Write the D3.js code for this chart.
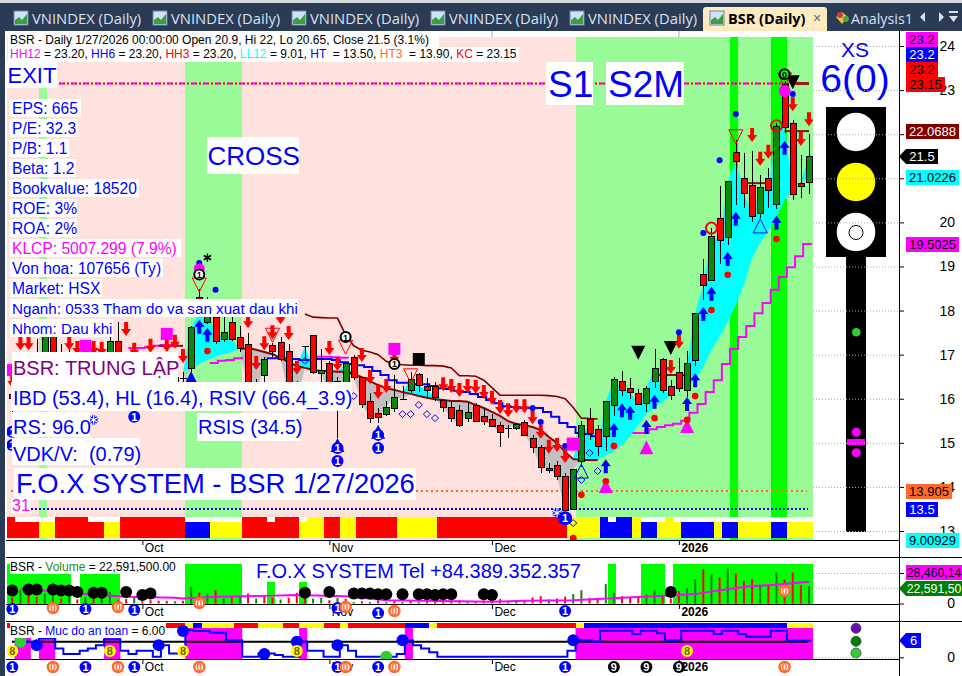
<!DOCTYPE html>
<html><head><meta charset="utf-8">
<style>html,body{margin:0;padding:0;background:#fff;overflow:hidden}svg{display:block}text{font-family:"Liberation Sans",Arial,sans-serif;white-space:pre}</style>
<script src="https://cdn.jsdelivr.net/npm/d3@7"></script></head><body><svg id="c" width="962" height="676"></svg>
<script>
// ---------- candle data, bar 0 .. 98 ----------
const opens=[16.1,16.9,16.6,16.8,16.4,17.42,16.9,16.8,17.0,16.5,16.9,16.7,16.5,17.3,16.9,16.6,16.5,16.7,16.5,16.6,16.5,16.47,16.7,18.3,17.75,17.86,17.36,17.73,17.39,17.23,16.3,16.52,17.21,17.28,17.08,16.3,17.2,17.44,16.59,16.8,16.4,16.08,16.94,16.49,15.94,15.68,15.65,15.81,15.99,16.19,16.55,16.3,16.3,15.98,15.81,15.74,15.55,15.85,15.6,15.55,15.4,15.34,15.34,15.48,15.11,14.9,14.44,14.49,14.25,13.49,14.59,15.55,15.31,15.14,15.84,16.4,16.24,16.14,15.9,16.39,16.89,16.3,16.6,16.18,16.88,18.84,18.68,20.09,19.65,21.59,21.0,20.84,20.22,21.0,20.42,23.14,22.25,20.89,20.9];
const highs=[16.2,17.0,16.95,17.35,17.45,17.45,17.25,17.3,17.1,17.1,17.05,17.1,17.55,17.75,17.0,16.95,16.9,16.95,16.8,16.85,16.7,16.6,17.65,18.5,18.3,18.0,18.0,17.95,17.65,17.5,16.45,16.95,17.26,17.4,17.25,16.4,17.2,17.45,17.13,16.85,16.5,16.8,17.0,16.5,16.13,15.78,15.94,16.54,16.3,16.6,16.58,16.47,16.38,16.0,15.94,15.85,15.94,15.9,15.79,15.65,15.48,15.4,15.46,15.52,15.18,14.95,14.54,14.59,14.32,14.4,15.5,15.78,15.4,15.94,16.5,16.63,16.46,16.22,16.29,17.13,16.92,16.42,16.92,17.08,17.95,19.16,19.87,20.82,20.93,21.87,21.57,21.62,21.07,21.23,22.25,23.2,22.32,21.52,22];
const lows=[15.7,16.3,16.3,16.6,16.3,16.45,16.5,16.5,16.45,16.4,16.6,16.4,16.3,16.5,16.3,16.3,16.3,16.4,16.3,16.35,16.1,16.2,16.6,17.9,17.7,17.25,17.28,17.3,17.05,16.1,15.9,16.3,16.95,16.85,15.95,15.9,16.88,16.55,16.39,15.9,15.12,15.9,16.43,15.8,15.46,15.44,15.6,15.71,15.99,16.1,16.16,16.0,15.94,15.7,15.48,15.37,15.48,15.47,15.4,15.35,14.91,15.11,15.3,15.17,14.78,14.32,14.32,14.15,13.49,13.49,14.45,15.06,14.7,14.82,15.61,16.06,15.99,15.86,15.71,16.24,16.13,15.97,16.16,16.03,16.74,18.24,18.68,19.06,19.49,20.39,20.33,20.0,20.1,20.33,20.3,22.03,20.5,20.55,20.65];
const closes=[16.0,16.4,16.8,17.05,17.42,16.55,16.6,16.6,16.5,16.9,16.7,16.9,17.3,16.6,16.4,16.4,16.7,16.5,16.6,16.4,16.3,16.47,17.62,17.95,18.2,17.32,17.51,17.35,17.13,16.2,16.0,16.89,17.07,16.89,16.08,16.0,17.19,16.59,16.65,16.0,15.75,16.8,16.49,15.88,15.56,15.6,15.81,16.05,15.99,16.44,16.3,16.2,16.05,15.81,15.56,15.39,15.69,15.48,15.49,15.39,15.23,15.34,15.43,15.19,14.9,14.44,14.4,14.25,13.49,14.4,15.4,15.23,14.93,15.94,16.44,16.19,16.14,15.88,16.24,16.69,16.19,16.1,16.24,16.8,17.95,18.59,19.68,19.58,20.93,21.38,20.67,20.13,20.8,20.73,22.18,22.17,20.64,20.83,21.5];
// slow line that bounds the cloud, from bar 21
const slowFirst=21;
const slow=[16.61,16.67,16.79,16.88,16.95,17.01,17.06,17.13,17.15,17.11,17.06,17.01,16.92,16.83,16.74,16.7,16.65,16.63,16.63,16.61,16.61,16.56,16.49,16.4,16.31,16.24,16.2,16.15,16.11,16.06,16.02,15.99,15.97,15.95,15.95,15.93,15.86,15.79,15.7,15.61,15.49,15.43,15.4,15.36,15.29,15.13,15.0,14.79,14.63,14.61,14.61,14.61,14.72,14.81,14.95,15.15,15.4,15.65,15.81,15.93,16.08,16.22,16.31,16.42,16.72,17.1,17.4,17.74,18.13,18.58,19.19,19.53,19.8,20.12,20.51,20.73,20.92,21.02];
// blue stepped line, bars 31-72
const blueFirst=31;
const blueLine=[16.92,16.92,16.92,16.9,16.88,16.88,16.9,16.9,16.88,16.83,16.79,16.76,16.72,16.63,16.54,16.42,16.36,16.36,16.33,16.33,16.29,16.24,16.22,16.18,16.15,16.11,16.04,15.97,15.9,15.83,15.81,15.79,15.79,15.79,15.7,15.59,15.45,15.36,15.22,15.2,15.15,15.13];
// magenta stepped line pieces
const stairFirst=76;
const stair=[15.22,15.22,15.31,15.36,15.4,15.43,15.5,15.68,15.88,16.15,16.42,16.79,17.13,17.4,17.65,17.94,18.17,18.47,18.76,18.98,19.23,19.51,19.5025];
const stairB=[17.15,17.15,17.17,17.2,17.22,17.22,17.24], stairBFirst=14;
const stairC=[16.81,16.86,16.88,16.92,16.95], stairCFirst=24;
const stairD=[16.95,16.95,16.94,16.93,16.92], stairDFirst=37;
// dark red upper line, bars 36-72
const upperFirst=36;
const upperLine=[17.92,17.85,17.84,17.83,17.83,17.45,17.2,17.1,17.06,17.0,16.85,16.78,16.77,16.76,16.76,16.75,16.75,16.74,16.7,16.52,16.52,16.51,16.42,16.25,16.08,16.08,16.08,16.08,16.08,16.08,16.07,16.05,16.0,15.8,15.56,15.55,15.54];
// short level segments [from bar, to bar, price, stroke]
const levelFrom=[18,79,90,95,96.4], levelTo=[21,83,93,98,98], levelPrice=[17.2,16.54,20.89,22.07,23.15], levelWidth=[2,2,2,2,3];
// markers on the price panel: bar + price
const redArrowBar=[0,1,2,7,8,9,10,11,14,15,17,19,20,21,29,30,31,32,33,34,35,39,40,43,44,45,46,47,53,54,55,56,57,58,59,60,61,62,63,64,65,66,67,68,81,82,91,92,93,96,97,98];
const redArrowPrice=[16.4,17.26,17.26,17.26,17.15,17.13,17.15,17.13,17.58,17.11,17.2,17.22,17.29,16.97,17.76,16.81,17.26,17.51,17.85,17.49,16.7,17.15,16.79,16.99,16.49,16.15,16.29,16.95,16.33,16.29,16.2,16.29,16.27,16.15,16.02,15.81,15.74,15.83,15.83,15.58,15.25,14.91,14.95,14.7,16.72,17.29,21.98,21.44,21.6,22.68,21.89,22.34];
const blueArrowBar=[23,24,73,74,75,76,78,79,83,84,85,86,88,89,94,95];
const blueArrowPrice=[17.63,17.45,14.47,15.29,15.74,15.68,15.36,15.93,15.88,16.42,17.92,18.38,19.17,20.08,19.99,21.69];
const hollowDownBar=[23,32,41,49,89,95], hollowDownPrice=[18.58,17.44,17.17,16.52,21.94,23.23];
const hollowUpBar=[92,70], hollowUpPrice=[19.92,14.36];
const blueUpBar=[22,40,45], blueUpPrice=[16.47,14.95,15.25];
const magentaUpBar=[73,78,83], magentaUpPrice=[14.02,14.9,15.38];
const blackDownBar=[77,81,96], blackDownPrice=[17.04,17.15,23.18];
const redRingBar=[86,94], redRingPrice=[19.87,22.19];
const blueDotBar=[23,25,64,65,68,82,85,87,89,96], blueDotPrice=[19.08,18.47,15.79,15.47,14.93,17.51,19.76,21.41,22.46,22.91];
const redDotBar=[24,69,70,73,74,79,83,84,86,88,94], redDotPrice=[17.08,12.84,13.82,14.13,14.93,15.56,15.52,16.06,18.01,18.81,19.62];
const hollowDiaBar=[36,42,48,49,50,51,52,70,71,72], hollowDiaPrice=[16.86,16.06,15.65,15.65,15.86,15.65,15.56,14.16,14.77,14.36];
const magSquareBar=[0,9,19,47,69], magSquarePrice=[16.65,17.2,17.47,17.13,14.97], magSquareSize=[12,12,12,12,13];
const oneBar=[0,0,15,40,40,45,45], onePrice=[15.25,14.95,15.59,14.88,14.59,15.18,14.88];
const ringBar=[23,41,47,95], ringPrice=[18.82,17.4,16.79,23.36];
// bar index based ribbons
const R="#ff0000",Y="#ffff00",B="#0000ff";
const stripFrom=[-1,3,5,11,13,21,24,28,35,38,40,42,47,52,68,72,76,77,79,82,86,87,89,93,95];
const stripTo=[3,5,11,13,21,24,28,35,38,40,42,47,52,68,72,76,77,79,82,86,87,89,93,95,99];
const stripColor=[R,Y,R,Y,R,B,Y,R,Y,R,Y,R,Y,R,Y,B,Y,B,Y,B,Y,B,Y,B,Y];
const stripWhiteFrom=[0,9,21,31,35,73,77,81], stripWhiteTo=[5,13,28,32,36,74,80,99];
const safeRibFrom=[-1,21,22,23,27,30,33,35,38,40,41,48,51,52,69,70,95];
const safeRibTo=[21,22,23,27,30,33,35,38,40,41,48,51,52,69,70,95,99];
const safeRibColor=[R,Y,B,Y,R,Y,R,Y,R,Y,R,B,Y,R,Y,B,Y];
const paleFrom=[3,21,69], paleTo=[4,28,99];
const limeFrom=[88,93], limeTo=[89,95];
// volume, millions
const volumes=[8,17.5,11,8.8,13,17.5,6.5,11,5.3,8.8,8.8,13,15,5,6,9,3,4.4,3.5,3.5,3,3.5,22,14.5,13,17.5,6.5,8,9,13,6.5,9.6,7.5,5.3,7.5,14,8.8,6.5,7.5,4.4,7.5,6,2,3,2,4,2,3,2,4,2,3,4,2,3,4,2,3,4,3,5.7,3,3,4.4,7.9,9.6,5.3,6.5,8.8,12.3,17.5,7.5,7.5,25.4,14,9.6,7.5,8.8,11.8,17.5,8.8,6.5,16.2,19.7,31.6,45,38.6,34,46,39.5,29.4,31.6,22.8,24,40.8,31.6,40.8,24,22.59];
const volGreen=[1,4,5,7,9,11,12,15,20,22,24,26,28,30,33,37,38,40,42,44,46,48,50,56,61,62,66,69,70,73,74,78,79,83,84,86,88,92,94,98];
const volLimeFrom=[-1,8,21,31,35,73,77,81], volLimeTo=[7,13,28,32,36,74,80,99];
const volMaBar=[1,8,14,20,21,25,31,35,41,46,55,59,63,69,75,79,84,87,91,94,98];
const volMa=[19.7,13,8.8,7.5,6.6,8.8,10,11,9.6,4.4,3,2.2,3.5,4.4,7.5,9.6,12.3,17.5,22.8,24.6,28.46];
const volDotBar=[0,2,3,5,6,7,8,10,11,14,16,17,36,39,42,43,44,45,46,48,50,51,52,53,54,58,59,81];
const volDotValue=[17,18.5,18.5,18.5,17,17,15,14,14,15,11,13,14,15,13,13,13,12,12,12,12,12,11,12,12,12,11,15];
// step line: safety level per bar
const safety=[5.6,5.6,5.6,6.85,6.85,3.2,1.2,1.2,2.4,3.2,4.4,6.5,6.5,2.4,1.2,2.4,2.4,0.2,4.4,1.4,1.4,9.9,9.5,9.5,8.9,8.9,6.2,6.2,0.2,0.2,1.4,1.4,0.8,0.2,0.2,5.6,2.4,2.4,0.2,0.2,4.4,2.4,0.2,0.2,0.2,0.2,0.2,1.2,6.2,4.4,3.2,1.8,0.2,0.2,0.2,0.2,0.2,0.2,0.2,0.2,0.2,0.2,0.2,0.2,0.2,0.2,0.2,0.2,2.4,6.2,6.2,5.6,9.6,9.6,9.6,9.6,8.4,9.6,9.6,8.7,6.2,6.2,9.6,9.6,9.6,9.6,8.4,9.6,9.6,8.4,7.4,7.4,7.4,9.6,9.6,6,6,6,6];
const safeMagFrom=[0,3,11,21,35,48,69], safeMagTo=[2,5,13,28,36,49,99], safeMagTop=[7,7,7,10.6,10.6,10.6,10.6];
const safeBlueBar=[3,18,21,31,35,40,48,69], safeBlueValue=[4.4,4.4,9.5,1.2,5.6,4.4,6.2,6.2];
const safeGreenBar=[1,46], safeGreenValue=[5.6,0.2];
const safeEightBar=[0,12,21,35,83];
const oneVolBar=[0,9,15,40,45,68], zeroVolBar=[5,13,23,41,47,95];
const nineBar=[74,78,82];
// tick labels
const monthBars=[16,39,59,82], monthLabels=["Oct","Nov","Dec","2026"];
const priceTicks=[13,14,15,16,17,18,19,20,21,22,23,24];
const volTicks=[0,20,40], safeTicks=[0];
const tabLabels=["VNINDEX (Daily)","VNINDEX (Daily)","VNINDEX (Daily)","VNINDEX (Daily)","VNINDEX (Daily)"];
const infoLines=["EPS: 665","P/E: 32.3","P/B: 1.1","Beta: 1.2","Bookvalue: 18520","ROE: 3%","ROA: 2%","KLCP: 5007.299 (7.9%)","Von hoa: 107656 (Ty)","Market: HSX","Nganh: 0533 Tham do va san xuat dau khi","Nhom: Dau khi"];
const infoWidth=[71,68,59,66,129,67,67,171,153,92,288,103];
const infoSize=[15.6,15.6,15.6,15.6,15.6,15.6,15.6,15.6,15.6,15.6,15.2,15.2];
const tagText=["23.2","23.2","23.2","23.15","22.0688","21.0226","19.5025","13.905","13.5","9.00929","28,460,14","22,591,50","21.5","6"];
const tagFill=["#ff00ff","#0000ff","#ff0000","#ff0000","#800000","#00ffff","#ff00ff","#ff6a2a","#0000ff","#00ffff","#ff00ff","#008000","#000","#0000ff"];
const tagInk=["#000","#fff","#000","#000","#fff","#000","#000","#000","#fff","#000","#000","#fff","#fff","#fff"];
const tagLeft=[906,906,906,906,906,906,906,906,906,906,906,899,899,899];
const tagRight=[938,938,938,945,959,959,959,952,938,959,962,962,938,921];
const tagTop=[32,47,62,77,124,170,237,484,502,533,565,581,149,633];

// ---------- scales ----------
const svg=d3.select("#c");
const x=d3.scaleLinear().domain([0,98]).range([12.3,809]);
const edge=e=>x(e+.28);
const y=d3.scaleLinear().domain([13,24]).range([531,46]);
const yVol=d3.scaleLinear().domain([0,40]).range([603.5,573]);
const ySafe=d3.scaleLinear().domain([0,6]).range([657.3,640.7]);
const BLUE="#0000ff",PINK="#ffe1de",PALE="#98fb98",LIME="#00ff00",CYAN="#00ffff",GREY="#c0c0c0",MAG="#ff00ff",CG="#0a8a0a";

const defs=svg.append("defs");
defs.append("clipPath").attr("id","pm").append("rect").attr("x",7).attr("y",37).attr("width",806).attr("height",503);
defs.append("clipPath").attr("id","pv").append("rect").attr("x",7).attr("y",557).attr("width",806).attr("height",47);
defs.append("clipPath").attr("id","ps").append("rect").attr("x",7).attr("y",621).attr("width",806).attr("height",38);

svg.append("rect").attr("width",962).attr("height",676).attr("fill","#fff");

// ---------- main panel ----------
const m=svg.append("g").attr("clip-path","url(#pm)");
m.append("rect").attr("x",7).attr("y",37).attr("width",806).attr("height",503).attr("fill",PINK);
const bands=(g,from,to,top,bot,col)=>g.selectAll(null).data(from.map((f,k)=>[f,to[k],Array.isArray(col)?col[k]:col])).join("rect")
  .attr("x",d=>edge(d[0])).attr("width",d=>edge(d[1])-edge(d[0])).attr("y",top).attr("height",bot-top).attr("fill",d=>d[2]).attr("shape-rendering","crispEdges");
bands(m,paleFrom,paleTo,37,540,PALE);
bands(m,limeFrom,limeTo,37,540,LIME);

// cloud between close and the slow line
const cloudBars=d3.range(slowFirst,99);
const slowAt=i=>slow[i-slowFirst];
m.append("path").attr("fill",CYAN).attr("d",d3.area().x(i=>x(i)).y0(i=>y(slowAt(i))).y1(i=>y(Math.max(closes[i],slowAt(i))))(cloudBars));
m.append("path").attr("fill",GREY).attr("d",d3.area().x(i=>x(i)).y0(i=>y(slowAt(i))).y1(i=>y(Math.min(closes[i],slowAt(i))))(cloudBars));

// dotted levels
const hline=(g,a,b,p,col,dash,w)=>g.append("line").attr("x1",a).attr("x2",b).attr("y1",y(p)).attr("y2",y(p)).attr("stroke",col).attr("stroke-dasharray",dash).attr("stroke-width",w);
hline(m,59,808,23.15,"#ff0000","2,2",2);
hline(m,59,808,23.15,MAG,"4,8",2);
hline(m,11,807,13.905,"#ff6a2a","2,3",2);
hline(m,31,808,13.5,BLUE,"2,2",2);

// lines
const lineOf=(first,arr,curve)=>d3.line().x((d,k)=>x(first+k)+(curve?2.3:0)).y(d=>y(d)).curve(curve||d3.curveLinear)(arr);
const stroke=(g,d,col,w)=>g.append("path").attr("d",d).attr("fill","none").attr("stroke",col).attr("stroke-width",w);
stroke(m,lineOf(stairFirst,stair,d3.curveStepAfter),MAG,2);
stroke(m,lineOf(stairBFirst,stairB,d3.curveStepAfter),MAG,2);
stroke(m,lineOf(stairCFirst,stairC,d3.curveStepAfter),MAG,2);
stroke(m,lineOf(stairDFirst,stairD,d3.curveStepAfter),MAG,2);
stroke(m,lineOf(upperFirst,upperLine),"#800000",1.6);
stroke(m,lineOf(blueFirst,blueLine,d3.curveStepAfter),BLUE,2);
stroke(m,lineOf(28,slow.slice(7,52)),"#8b0000",2);
m.selectAll(null).data(levelFrom.map((f,k)=>k)).join("line").attr("x1",k=>x(levelFrom[k])).attr("x2",k=>x(levelTo[k])).attr("y1",k=>y(levelPrice[k])).attr("y2",k=>y(levelPrice[k])).attr("stroke",k=>k==4?"#a01818":"#8b1010").attr("stroke-width",k=>levelWidth[k]);

// candles
const bars=d3.range(closes.length);
const cg=m.append("g").attr("shape-rendering","crispEdges");
cg.selectAll(".w").data(bars).join("line").attr("class","w").attr("x1",i=>Math.round(x(i))+.5).attr("x2",i=>Math.round(x(i))+.5).attr("y1",i=>y(highs[i])).attr("y2",i=>y(lows[i])).attr("stroke","#000");
cg.selectAll(".b").data(bars).join("rect").attr("class","b").attr("x",i=>Math.round(x(i))-2.5).attr("width",6)
  .attr("y",i=>Math.round(y(Math.max(opens[i],closes[i])))+.5).attr("height",i=>Math.max(Math.abs(y(opens[i])-y(closes[i])),.01))
  .attr("fill",i=>closes[i]>opens[i]?CG:"#ff0000").attr("stroke","#000");

// markers
const pts=(a,b)=>a.map((v,k)=>[x(v),y(b[k])]);
const arrowDown="M-2,-7L2,-7L2,0L5,0L0,7L-5,0L-2,0Z", arrowUp="M-2,7L2,7L2,0L5,0L0,-7L-5,0L-2,0Z";
const triDown="M-7,-7L7,-7L0,7Z", triUp="M-7,7L7,7L0,-7Z";
const place=(g,list,path,fill,st)=>g.selectAll(null).data(list).join("path").attr("transform",d=>`translate(${d[0]},${d[1]})`).attr("d",path).attr("fill",fill).attr("stroke",st||"none");
const mk=m.append("g");
place(mk,pts(magentaUpBar,magentaUpPrice),triUp,MAG);
place(mk,pts(blackDownBar,blackDownPrice),triDown,"#000");
place(mk,pts(hollowDownBar,hollowDownPrice),triDown,"none","#ff0000");
place(mk,pts(hollowUpBar,hollowUpPrice),triUp,"none",BLUE);
place(mk,pts(blueUpBar,blueUpPrice),triUp,BLUE);
place(mk,pts(redArrowBar,redArrowPrice),arrowDown,"#ff0000");
place(mk,pts(blueArrowBar,blueArrowPrice),arrowUp,BLUE);
const dots=(list,r,fill,st,w)=>mk.selectAll(null).data(list).join("circle").attr("cx",d=>d[0]).attr("cy",d=>d[1]).attr("r",r).attr("fill",fill).attr("stroke",st||"none").attr("stroke-width",w||1);
dots(pts(redRingBar,redRingPrice),5.5,"none","#ff0000",2);
dots(pts(blueDotBar,blueDotPrice),3,BLUE);
dots(pts(redDotBar,redDotPrice),3.3,"#ff0000");
place(mk,pts(hollowDiaBar,hollowDiaPrice),"M0,-3.5L3.5,0L0,3.5L-3.5,0Z","none",BLUE);
mk.selectAll(null).data(magSquareBar.map((b,k)=>k)).join("rect").attr("x",k=>x(magSquareBar[k])-magSquareSize[k]/2).attr("y",k=>y(magSquarePrice[k])-magSquareSize[k]/2).attr("width",k=>magSquareSize[k]).attr("height",k=>magSquareSize[k]).attr("fill",MAG);
mk.append("rect").attr("x",x(50)-6).attr("y",y(16.9)-6).attr("width",12).attr("height",12).attr("fill","#000");
mk.append("circle").attr("cx",x(95)).attr("cy",y(22.98)).attr("r",6).attr("fill",MAG);
mk.append("circle").attr("cx",x(23)).attr("cy",y(18.95)).attr("r",5.5).attr("fill",MAG);
const badge=(g,cx,cy,txt,fill,ink,r)=>{g.append("circle").attr("cx",cx).attr("cy",cy).attr("r",r||6).attr("fill",fill);
  g.append("text").attr("x",cx).attr("y",cy+4).attr("text-anchor","middle").attr("font-size",11).attr("font-weight","bold").attr("fill",ink).text(txt);};
oneBar.forEach((b,k)=>badge(mk,x(b),y(onePrice[k]),"1",BLUE,"#fff"));
ringBar.forEach((b,k)=>{mk.append("circle").attr("cx",x(b)).attr("cy",y(ringPrice[k])).attr("r",5).attr("fill",k==3?LIME:"#fff").attr("stroke","#000").attr("stroke-width",2);
  mk.append("text").attr("x",x(b)).attr("y",y(ringPrice[k])+3.5).attr("text-anchor","middle").attr("font-size",9).attr("font-weight","bold").text(k==3?"0":"1");});
const star=d3.symbol().type(d3.symbolAsterisk);
mk.append("path").attr("transform",`translate(${x(24)},${y(19.2)})`).attr("d",star.size(50)()).attr("stroke","#000").attr("stroke-width",1.5);
[[10,15.52],[67,13.41]].forEach(p=>{const t=`translate(${x(p[0])},${y(p[1])})`;
  mk.append("path").attr("transform",t).attr("d",star.size(60)()).attr("stroke",BLUE).attr("stroke-width",3);
  mk.append("path").attr("transform",t).attr("d",star.size(60)()).attr("stroke","#fff").attr("stroke-width",1.2);});

// bottom ribbon
const rib=m.append("g");
bands(rib,stripFrom,stripTo,517,538,stripColor);
bands(rib,stripWhiteFrom,stripWhiteTo,517,522,"#fff");
badge(m,x(68),y(13.29),"1",BLUE,"#fff",7);
m.append("circle").attr("cx",x(69)).attr("cy",y(12.84)).attr("r",3.3).attr("fill","#ff0000");
m.append("path").attr("transform",`translate(${x(69)},${y(13.18)})`).attr("d","M0,-3.5L3.5,0L0,3.5L-3.5,0Z").attr("fill","none").attr("stroke",BLUE);

// text boxes
const box=(px,py,w,h,txt,size,col,base,tx,anchor)=>{svg.append("rect").attr("x",px).attr("y",py).attr("width",w).attr("height",h).attr("fill","#fff");
  svg.append("text").attr("x",tx!=null?tx:px+2).attr("y",base).attr("font-size",size).attr("fill",col).attr("text-anchor",anchor||"start").text(txt);};
infoLines.forEach((t,k)=>box(10,99+20*k,infoWidth[k],18,t,infoSize[k],k==7?MAG:BLUE,114+20*k));
box(7,62,50,26,"EXIT",22,BLUE,83,7.5);
box(207,137,92,37,"CROSS",26,BLUE,165,207.5);
box(546,62,47,43,"S1",37,BLUE,97,548);
box(606,62,78,43,"S2M",37,BLUE,97,608);
box(12,352,166,30,"BSR: TRUNG LẬP",20,"#800080",375,13);
box(11,382,341,29,"IBD (53.4), HL (16.4), RSIV (66.4_3.9)",20,BLUE,405,13);
box(12,412,78,25,"RS: 96.0",20,BLUE,434,13);
box(12,438,128,27,"VDK/V:  (0.79)",20,BLUE,461,13);
box(197,413,104,28,"RSIS (34.5)",20,BLUE,434,198);
box(14,468,402,32,"F.O.X SYSTEM - BSR 1/27/2026",27.4,BLUE,493,16);
box(11,498,20,15,"31",16,MAG,511,12);

// header
const hdr=svg.append("g");
hdr.append("rect").attr("x",8).attr("y",33).attr("width",431).attr("height",15).attr("fill","#fff");
hdr.append("rect").attr("x",8).attr("y",47).attr("width",511).attr("height",15).attr("fill","#fff");
hdr.append("text").attr("x",10).attr("y",44).attr("font-size",12).attr("fill","#000").text("BSR - Daily 1/27/2026 00:00:00 Open 20.9, Hi 22, Lo 20.65, Close 21.5 (3.1%)");
const hl=[["HH12",MAG]," = 23.20, ",["HH6",BLUE]," = 23.20, ",["HH3","#ff0000"]," = 23.20, ",["LL12",CYAN]," = 9.01, ",["HT",BLUE],"  = 13.50, ",["HT3","#ff6a2a"],"  = 13.90, ",["KC","#ff0000"]," = 23.15"];
const ht=hdr.append("text").attr("x",10).attr("y",58).attr("font-size",12);
hl.forEach(s=>{const a=Array.isArray(s);ht.append("tspan").attr("fill",a?s[1]:"#000").text(a?s[0]:s);});

// ---------- volume panel ----------
const v=svg.append("g").attr("clip-path","url(#pv)");
bands(v,volLimeFrom,volLimeTo,564,604,LIME);
v.append("g").selectAll("line").data(bars).join("line").attr("x1",i=>x(i)).attr("x2",i=>x(i)).attr("y1",yVol(0)).attr("y2",i=>yVol(volumes[i])).attr("stroke",i=>volGreen.includes(i)?"#128012":"#ff0000").attr("stroke-width",2);
v.append("path").attr("d",d3.line().x((d,k)=>x(volMaBar[k])).y(d=>yVol(d))(volMa)).attr("fill","none").attr("stroke",MAG).attr("stroke-width",2);
v.selectAll(".vd").data(volDotBar.map((b,k)=>k)).join("circle").attr("cx",k=>x(volDotBar[k])).attr("cy",k=>yVol(volDotValue[k])).attr("r",6).attr("fill","#000");
v.append("rect").attr("x",10).attr("y",561).attr("width",170).attr("height",13).attr("fill","#fff");
v.append("rect").attr("x",254).attr("y",561).attr("width",335).attr("height",21).attr("fill","#fff");
const vt=svg.append("text").attr("x",10).attr("y",571).attr("font-size",12);
vt.append("tspan").text("BSR - ");vt.append("tspan").attr("fill","#228b22").text("Volume");vt.append("tspan").text(" = 22,591,500.00");
svg.append("text").attr("x",256).attr("y",578).attr("font-size",20).attr("fill",BLUE).text("F.O.X SYSTEM Tel +84.389.352.357");

// ---------- safety panel ----------
const s=svg.append("g").attr("clip-path","url(#ps)");
s.selectAll(".sm").data(safeMagFrom.map((f,k)=>k)).join("rect").attr("x",k=>edge(safeMagFrom[k])).attr("width",k=>edge(safeMagTo[k])-edge(safeMagFrom[k])).attr("y",k=>ySafe(safeMagTop[k])).attr("height",k=>659-ySafe(safeMagTop[k])).attr("fill",MAG);
bands(s,safeRibFrom,safeRibTo,623,628,safeRibColor);
s.append("line").attr("x1",12).attr("x2",808).attr("y1",641.7).attr("y2",641.7).attr("stroke","#000").attr("stroke-width",2);
s.append("path").attr("d",d3.line().x((d,k)=>x(k)+2.3).y(d=>ySafe(d)).curve(d3.curveStepAfter)(safety)).attr("fill","none").attr("stroke",BLUE).attr("stroke-width",2);
safeBlueBar.forEach((b,k)=>s.append("circle").attr("cx",x(b)).attr("cy",ySafe(safeBlueValue[k])).attr("r",6).attr("fill",BLUE));
safeGreenBar.forEach((b,k)=>s.append("circle").attr("cx",x(b)).attr("cy",ySafe(safeGreenValue[k])).attr("r",6).attr("fill","#32cd32"));
safeEightBar.forEach(b=>badge(s,x(b),651,"8",Y,"#806000"));
svg.append("rect").attr("x",10).attr("y",622).attr("width",156).attr("height",16).attr("fill","#fff");
const st=svg.append("text").attr("x",10).attr("y",635).attr("font-size",12);
st.append("tspan").text("BSR - ");st.append("tspan").attr("fill",BLUE).text("Muc do an toan");st.append("tspan").text(" = 6.00");

// ---------- date axes ----------
const monthAxis=(py)=>{const g=svg.append("g").attr("transform",`translate(0,${py})`).call(d3.axisBottom(x).tickValues(monthBars).tickSize(5).tickFormat((d,k)=>monthLabels[k]));
  g.select(".domain").remove();
  g.selectAll("text").attr("text-anchor","start").attr("x",2).attr("y",3).attr("font-size",12).attr("fill","#000").attr("font-family","Liberation Sans").attr("font-weight",(d,k)=>k==3?"bold":"normal");};
monthAxis(540);monthAxis(604);monthAxis(659);
[[540,899],[557,962],[604,899],[621,962],[659,899]].forEach(l=>svg.append("line").attr("x1",6).attr("x2",l[1]).attr("y1",l[0]+.5).attr("y2",l[0]+.5).attr("stroke","#000"));
// badges on the date rows
const lay=svg.append("g");
const oneRowY=[609,609,610,608,613,611];
oneRowY.forEach((ry,k)=>badge(lay,x(oneVolBar[k]),ry,"1",BLUE,"#fff"));
const zeroRowY=[608,607,603,607,611,591];
const zeroBadge=(bx,by)=>{lay.append("circle").attr("cx",bx).attr("cy",by).attr("r",5).attr("fill","#fff").attr("stroke","#ff6a2a").attr("stroke-width",2.5);
  lay.append("text").attr("x",bx).attr("y",by+3.5).attr("text-anchor","middle").attr("font-size",10).attr("font-weight","bold").attr("fill","#ff6a2a").text("0");};
zeroRowY.forEach((ry,k)=>zeroBadge(x(zeroVolBar[k]),ry));
oneVolBar.forEach(b=>badge(lay,x(b),667,"1",BLUE,"#fff"));
zeroVolBar.forEach(b=>zeroBadge(x(b),667));
nineBar.forEach(b=>badge(lay,x(b),667,"9","#000","#fff"));

// ---------- traffic light ----------
const tl=svg.append("g");
tl.append("rect").attr("x",826).attr("y",107).attr("width",60).attr("height",150).attr("fill","#000");
tl.append("rect").attr("x",846).attr("y",257).attr("width",20).attr("height",275).attr("fill","#000");
[[132,"#fff"],[182,"#ffff00"],[232,"#fff"]].forEach(c=>tl.append("circle").attr("cx",856).attr("cy",c[0]).attr("r",19.3).attr("fill",c[1]));
tl.append("circle").attr("cx",856).attr("cy",232.5).attr("r",7).attr("fill","none").attr("stroke","#000");
tl.append("circle").attr("cx",856.3).attr("cy",332.3).attr("r",4.3).attr("fill","#32cd32");
tl.append("circle").attr("cx",856.3).attr("cy",432.3).attr("r",4.5).attr("fill",MAG);
tl.append("circle").attr("cx",856.3).attr("cy",452.7).attr("r",4.5).attr("fill",MAG);
tl.append("rect").attr("x",847).attr("y",439).attr("width",18).attr("height",6).attr("fill",MAG);
svg.append("text").attr("x",855).attr("y",56.5).attr("text-anchor","middle").attr("font-size",21).attr("fill",BLUE).text("XS");
svg.append("text").attr("x",855).attr("y",92).attr("text-anchor","middle").attr("font-size",39).attr("fill",BLUE).text("6(0)");
[["#6a0dad",628.3],["#008000",641.3],["#32cd32",653]].forEach(c=>svg.append("circle").attr("cx",856).attr("cy",c[1]).attr("r",5).attr("fill",c[0]).attr("stroke","#333").attr("stroke-width",.7));

// ---------- right axes ----------
const gridDots=(sc,vals)=>svg.append("g").selectAll("line").data(vals).join("line").attr("x1",813).attr("x2",899).attr("y1",d=>sc(d)+.5).attr("y2",d=>sc(d)+.5).attr("stroke","#aaa").attr("stroke-dasharray","1,2");
gridDots(y,priceTicks);gridDots(yVol,[20,40]);gridDots(ySafe,[0]);
svg.append("line").attr("x1",899.5).attr("x2",899.5).attr("y1",31).attr("y2",676).attr("stroke","#000");
const styleAxis=g=>{g.select(".domain").remove();g.selectAll("text").attr("x",56).attr("text-anchor","end").attr("font-size",14).attr("fill","#000").attr("font-family","Liberation Sans");};
svg.append("g").attr("transform","translate(899,0)").call(d3.axisRight(y).tickValues(priceTicks).tickSize(5).tickFormat(d3.format("d"))).call(styleAxis);
svg.append("g").attr("transform","translate(899,0)").call(d3.axisRight(yVol).tickValues(volTicks).tickSize(5).tickFormat(d=>d==0?"0":"")).call(styleAxis);
svg.append("g").attr("transform","translate(899,0)").call(d3.axisRight(ySafe).tickValues(safeTicks).tickSize(5).tickFormat(d3.format("d"))).call(styleAxis);
// price tags sit over the tick numerals
tagText.forEach((t,k)=>{const h=15,l=tagLeft[k],r=tagRight[k],tp=tagTop[k];
  if(l==899)svg.append("path").attr("d",`M899,${tp+7.5}L906,${tp}L${r},${tp}L${r},${tp+h}L906,${tp+h}Z`).attr("fill",tagFill[k]);
  else svg.append("rect").attr("x",l).attr("y",tp).attr("width",r-l).attr("height",h).attr("fill",tagFill[k]);
  svg.append("text").attr("x",l==899?(906+r)/2:(l+r)/2).attr("y",tp+12).attr("text-anchor","middle").attr("font-size",k==10||k==11?12.3:13).attr("fill",tagInk[k]).text(t);});

// ---------- window chrome ----------
const ch=svg.append("g");
ch.append("rect").attr("width",962).attr("height",31).attr("fill","#2b3a55");
ch.append("rect").attr("width",962).attr("height",3).attr("fill","#d5d9e0");
ch.append("rect").attr("y",31).attr("width",5).attr("height",645).attr("fill","#2b3a55");
const icon=(ix)=>{ch.append("rect").attr("x",ix).attr("y",11).attr("width",14).attr("height",14).attr("fill","#cfe3f6").attr("stroke","#6f86a5");
  ch.append("path").attr("d",`M${ix+1},24L${ix+1},20L${ix+5},17L${ix+8},20L${ix+13},14L${ix+13},24Z`).attr("fill","#3f9c3f");};
tabLabels.forEach((t,k)=>{const ix=14+139*k;icon(ix);
  ch.append("text").attr("x",ix+18).attr("y",24).attr("font-size",14.8).attr("fill","#d8e2ee").style("font-family","'Open Sans'").text(t);});
ch.append("path").attr("d","M703,31L703,10Q703,7 706,7L824,7Q827,7 827,10L827,31Z").attr("fill","#fdeabf");
icon(710);
ch.append("text").attr("x",728).attr("y",24).attr("font-size",14.5).attr("font-weight","bold").attr("fill","#000").style("font-family","'Open Sans'").text("BSR (Daily)");
ch.append("text").attr("x",817).attr("y",23).attr("font-size",14).attr("text-anchor","middle").attr("fill","#666").text("×");
ch.append("path").attr("d","M836,17L842,12L848,17L842,24Z").attr("fill","#e9c33a");
ch.append("circle").attr("cx",840).attr("cy",15).attr("r",3).attr("fill","#d23b3b");
ch.append("circle").attr("cx",846).attr("cy",19).attr("r",3).attr("fill","#48a848");
ch.append("text").attr("x",851).attr("y",24).attr("font-size",14.3).attr("fill","#d8e2ee").style("font-family","'Open Sans'").text("Analysis1");
ch.append("path").attr("d","M925,12L925,22L920,17Z M939,12L939,22L944,17Z").attr("fill","#d8e2ee");
ch.append("path").attr("d","M949,11L958,11L958,13L949,13Z M949,16L958,16L953.5,22Z").attr("fill","#d8e2ee");
svg.append("g").selectAll("line").data([59,82]).join("line").attr("x1",i=>x(i)).attr("x2",i=>x(i)).attr("y1",31).attr("y2",37).attr("stroke","#aaa");
</script></body></html>
